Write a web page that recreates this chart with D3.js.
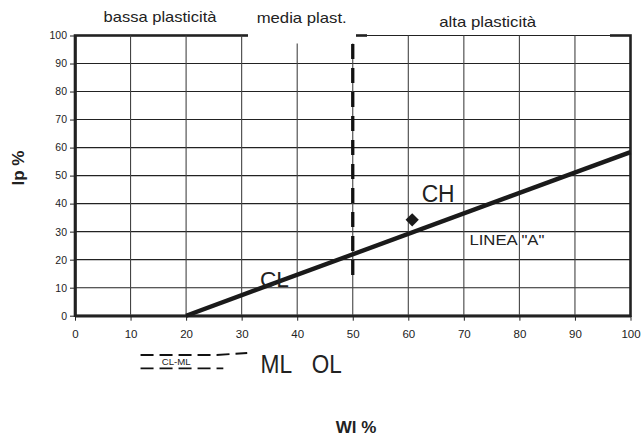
<!DOCTYPE html>
<html><head><meta charset="utf-8">
<script src="https://cdn.jsdelivr.net/npm/d3@7"></script>
<style>body{margin:0;background:#fff}svg{display:block}text{font-family:"Liberation Sans",Arial,sans-serif;fill:#222}</style>
</head><body><svg id="c" width="643" height="439"></svg>
<script>
// ---- data ----
const xTicks = [0,10,20,30,40,50,60,70,80,90,100];
const yTicks = [0,10,20,30,40,50,60,70,80,90,100];
const lineA = [[20,0],[100,58.4]];            // Ip = 0.73 (Wl - 20)
const liquidLimit50 = [[50,97],[50,13.5]];    // boundary Wl = 50
const samplePoint = [[60.7,34.2]];
const clmlUpper = [[11.8,-14.0],[25.5,-14.0],[31.0,-13.3]];
const clmlLower = [[11.8,-18.8],[26.7,-18.8]];
const zoneLabels = ["bassa plasticità","media plast.","alta plasticità"];
const xTitle = "Wl %", yTitle = "Ip %";

const svg = d3.select("#c");
const x = d3.scaleLinear().domain([0,100]).range([75,630.5]);
const y = d3.scaleLinear().domain([0,100]).range([315.7,35.5]);
const line = d3.line().x(d=>x(d[0])).y(d=>y(d[1]));

// outer border
svg.append("rect").attr("x",x(0)).attr("y",y(100)).attr("width",x(100)-x(0)).attr("height",y(0)-y(100))
  .attr("fill","none").attr("stroke","#222").attr("stroke-width",2.6);
// white box behind "alta plasticità"
svg.append("rect").attr("x",367).attr("y",0).attr("width",243).attr("height",y(100)+1.6).attr("fill","#fff");

// gridlines
svg.append("g").selectAll("line").data(yTicks.filter(d=>d>0)).join("line")
  .attr("x1",x(0)).attr("x2",x(100)).attr("y1",d=>y(d)).attr("y2",d=>y(d))
  .attr("stroke","#222").attr("stroke-width",1.1);
svg.append("g").selectAll("line").data(xTicks.filter(d=>d>0&&d<100)).join("line")
  .attr("x1",d=>x(d)).attr("x2",d=>x(d)).attr("y1",y(100)).attr("y2",y(0))
  .attr("stroke","#444").attr("stroke-width",1.1);

// axes
const ga = svg.append("g").attr("transform",`translate(${x(0)},0)`)
  .call(d3.axisLeft(y).tickValues(yTicks).tickSize(5).tickPadding(3).tickSizeOuter(0));
const gb = svg.append("g").attr("transform",`translate(0,${y(0)})`)
  .call(d3.axisBottom(x).tickValues(xTicks).tickSize(5).tickPadding(9).tickSizeOuter(0));
[ga,gb].forEach(g=>{
  g.select(".domain").attr("stroke","#222").attr("stroke-width",2.6);
  g.selectAll(".tick line").attr("stroke","#222");
  g.selectAll("text").style("font-family","Liberation Sans, Arial").attr("fill","#222");
});
ga.selectAll("text").attr("font-size",10.5);
gb.selectAll("text").attr("font-size",11.5);

// white box behind "media plast."
svg.append("rect").attr("x",248).attr("y",0).attr("width",108).attr("height",43.5).attr("fill","#fff");

// zone labels
const zl = [[160,22,113],[301.7,23,90],[487.7,26.5,97]];
svg.selectAll(".zl").data(zoneLabels).join("text").attr("class","zl")
  .attr("x",(d,i)=>zl[i][0]).attr("y",(d,i)=>zl[i][1]).attr("text-anchor","middle")
  .attr("font-size",15).attr("textLength",(d,i)=>zl[i][2]).attr("lengthAdjust","spacingAndGlyphs")
  .text(d=>d);

// dashed Wl=50 line
svg.append("path").datum(liquidLimit50).attr("d",line).attr("stroke","#111")
  .attr("stroke-width",3.3).attr("stroke-dasharray","15,9").attr("fill","none");

// A-line
svg.append("path").datum(lineA).attr("d",line).attr("stroke","#1a1a1a")
  .attr("stroke-width",4.4).attr("fill","none");

// sample point (diamond)
svg.selectAll(".pt").data(samplePoint).join("path").attr("class","pt")
  .attr("d",d3.symbol(d3.symbolSquare,88)())
  .attr("transform",d=>`translate(${x(d[0])},${y(d[1])}) rotate(45)`).attr("fill","#1a1a1a");

// CL-ML boundary lines (below axis)
[clmlUpper,clmlLower].forEach(p=>{
  svg.append("path").datum(p).attr("d",line).attr("stroke","#111").attr("stroke-width",1.9)
    .attr("stroke-dasharray","13,6").attr("fill","none");
});

// soil class labels
function lab(t,xv,yv,fs,len){
  svg.append("text").attr("x",x(xv)).attr("y",y(yv)).attr("font-size",fs)
    .attr("textLength",len).attr("lengthAdjust","spacingAndGlyphs").text(t);
}
lab("CH",62.4,40.7,23,33);
lab("CL",33.3,10.4,22.5,29);
lab("LINEA \"A\"",71,25.2,15,75);
lab("ML",33.4,-20.5,25,31.6);
lab("OL",42.6,-20.5,25,30);
lab("CL-ML",15.6,-17.6,8.5,29);

// axis titles
svg.append("text").attr("x",356).attr("y",433).attr("text-anchor","middle")
  .attr("font-size",17).attr("font-weight","bold").text(xTitle);
svg.append("text").attr("transform","translate(24,168) rotate(-90)").attr("text-anchor","middle")
  .attr("font-size",17).attr("font-weight","bold").text(yTitle);
</script></body></html>
